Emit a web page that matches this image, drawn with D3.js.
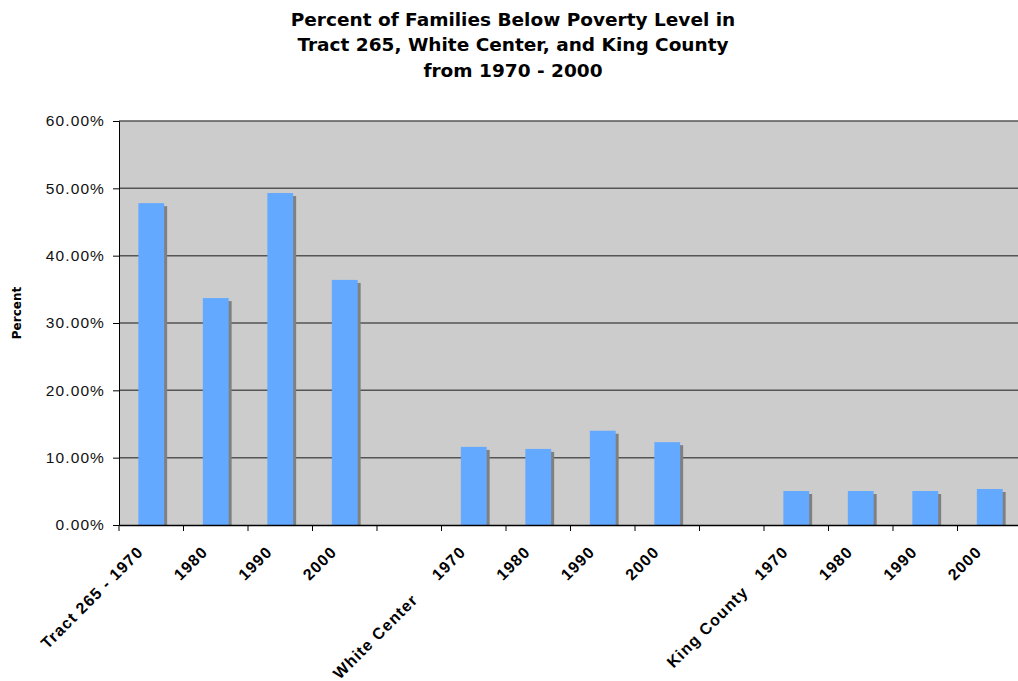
<!DOCTYPE html>
<html>
<head>
<meta charset="utf-8">
<script src="https://cdn.jsdelivr.net/npm/d3@7"></script>
<style>
  body { margin: 0; background: #fff; }
  svg { display: block; font-family: Verdana, "DejaVu Sans", sans-serif; }
</style>
</head>
<body>
<div id="chart"></div>
<script>
const width = 1018;
const height = 681;

const titleLines = [
  "Percent of Families Below Poverty Level in",
  "Tract 265, White Center, and King County",
  "from 1970 - 2000"
];
const categories = [
  "Tract 265 - 1970", "1980", "1990", "2000", "",
  "White Center     1970", "1980", "1990", "2000", "",
  "King County   1970", "1980", "1990", "2000"
];
const values = [
  0.478, 0.337, 0.493, 0.364, null,
  0.116, 0.113, 0.140, 0.123, null,
  0.0505, 0.0505, 0.0505, 0.0535
];
const yTicks = [0, 0.1, 0.2, 0.3, 0.4, 0.5, 0.6];

const margin = { top: 121, left: 119, bottom: 156 };
const plotRight = 1022; // plot runs past the right edge of the picture

const svg = d3.select("#chart").append("svg")
  .attr("width", width)
  .attr("height", height);

const x = d3.scaleBand()
  .domain(d3.range(categories.length))
  .range([margin.left, plotRight]);

const y = d3.scaleLinear()
  .domain([0, 0.6])
  .range([height - margin.bottom, margin.top]);

// plot background
svg.append("rect")
  .attr("x", margin.left)
  .attr("y", y(0.6))
  .attr("width", plotRight - margin.left)
  .attr("height", y(0) - y(0.6))
  .attr("fill", "#cccccc");

// gridlines
svg.append("g")
  .selectAll("line")
  .data(yTicks.slice(1))
  .join("line")
  .attr("x1", margin.left)
  .attr("x2", plotRight)
  .attr("y1", d => y(d))
  .attr("y2", d => y(d))
  .attr("stroke", "#555")
  .attr("stroke-width", 1.5);

// bars with drop shadow
const barW = x.bandwidth() * 0.4;
const shift = 3;
const barData = values.map((v, i) => ({ i, v })).filter(d => d.v != null);

svg.append("g")
  .selectAll("rect")
  .data(barData)
  .join("rect")
  .attr("x", d => x(d.i) + (x.bandwidth() - barW) / 2 + shift)
  .attr("y", d => y(d.v) + shift)
  .attr("width", barW)
  .attr("height", d => y(0) - y(d.v) - shift)
  .attr("fill", "#808080");

svg.append("g")
  .selectAll("rect")
  .data(barData)
  .join("rect")
  .attr("x", d => x(d.i) + (x.bandwidth() - barW) / 2)
  .attr("y", d => y(d.v))
  .attr("width", barW)
  .attr("height", d => y(0) - y(d.v))
  .attr("fill", "#63a9ff");

// y axis
const yAxis = svg.append("g")
  .attr("transform", `translate(${margin.left},0)`)
  .call(d3.axisLeft(y).tickValues(yTicks).tickFormat(d3.format(".2%")).tickSize(6).tickPadding(8));
yAxis.select(".domain").attr("stroke", "#000");
yAxis.selectAll("text")
  .attr("font-size", 15.5)
  .attr("letter-spacing", 1.1)
  .attr("fill", "#111");

// x axis: labels at band centres, tick marks at band edges
const xAxis = svg.append("g")
  .attr("transform", `translate(0,${y(0)})`)
  .call(d3.axisBottom(x).tickFormat(i => categories[i]).tickSize(0).tickSizeOuter(0));
xAxis.select(".domain").attr("stroke", "#000").attr("stroke-width", 1.5);
xAxis.selectAll("text")
  .attr("x", 0)
  .attr("y", 0)
  .attr("dy", 0)
  .attr("text-anchor", "end")
  .attr("transform", "translate(-7,28) rotate(-45)")
  .attr("font-size", 16)
  .attr("font-weight", "bold")
  .attr("letter-spacing", 1.1)
  .attr("fill", "#000")
  .style("white-space", "pre");

svg.append("g")
  .selectAll("line")
  .data(d3.range(categories.length + 1))
  .join("line")
  .attr("x1", i => margin.left + i * x.step())
  .attr("x2", i => margin.left + i * x.step())
  .attr("y1", y(0))
  .attr("y2", y(0) + 6)
  .attr("stroke", "#000");

// y axis title
svg.append("text")
  .attr("transform", `translate(21,313) rotate(-90)`)
  .attr("text-anchor", "middle")
  .attr("font-size", 12)
  .attr("font-weight", "bold")
  .text("Percent");

// chart title
svg.append("g")
  .selectAll("text")
  .data(titleLines)
  .join("text")
  .attr("x", 513)
  .attr("y", (d, i) => 25.5 + i * 25.5)
  .attr("text-anchor", "middle")
  .attr("font-size", 18.5)
  .attr("font-weight", "bold")
  .attr("fill", "#000")
  .text(d => d);
</script>
</body>
</html>
